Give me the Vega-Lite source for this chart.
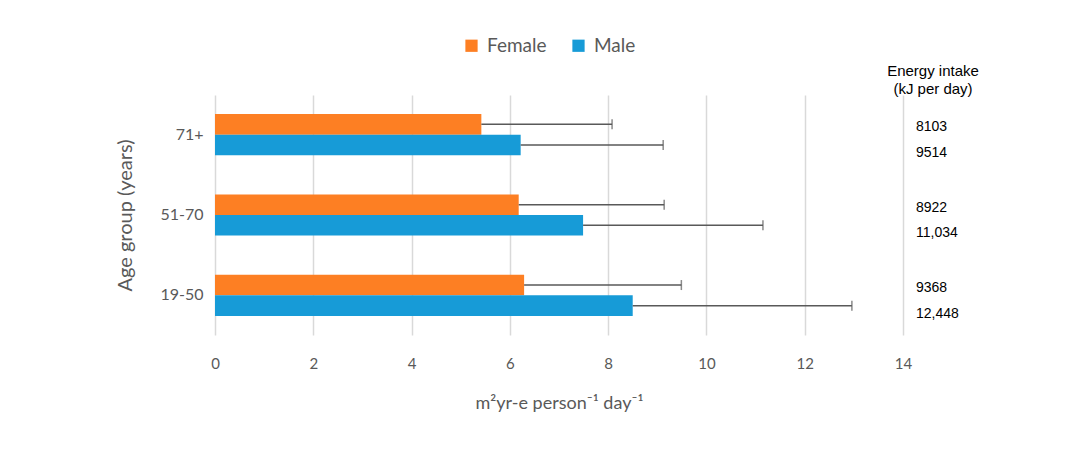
{
  "$schema": "https://vega.github.io/schema/vega-lite/v6.json",
  "width": 688,
  "height": 240,
  "autosize": "none",
  "padding": {"left": 215, "top": 95, "right": 169, "bottom": 136},
  "background": "white",
  "title": {
    "text": ["Energy intake", "(kJ per day)"],
    "orient": "top",
    "anchor": "end",
    "frame": "group",
    "align": "center",
    "dx": 30,
    "dy": 65,
    "offset": 4,
    "font": "Liberation Sans",
    "fontSize": 15,
    "fontWeight": "normal",
    "lineHeight": 18,
    "color": "#000000"
  },
  "data": {
    "values": [
      {"age": "71+", "sex": "Female", "value": 5.42, "upper": 8.08, "energy": "8103"},
      {"age": "71+", "sex": "Male", "value": 6.22, "upper": 9.12, "energy": "9514"},
      {"age": "51-70", "sex": "Female", "value": 6.18, "upper": 9.14, "energy": "8922"},
      {"age": "51-70", "sex": "Male", "value": 7.49, "upper": 11.15, "energy": "11,034"},
      {"age": "19-50", "sex": "Female", "value": 6.29, "upper": 9.49, "energy": "9368"},
      {"age": "19-50", "sex": "Male", "value": 8.5, "upper": 12.96, "energy": "12,448"}
    ]
  },
  "encoding": {
    "y": {
      "field": "age",
      "type": "nominal",
      "sort": ["71+", "51-70", "19-50"],
      "scale": {"paddingInner": 0.4875, "paddingOuter": 0.2375},
      "axis": {
        "title": "Age group (years)",
        "domain": false,
        "ticks": false,
        "grid": false,
        "labelPadding": 12,
        "labelFont": "Lato",
        "labelFontSize": 16,
        "labelColor": "#595959",
        "titleFont": "Lato",
        "titleFontSize": 20,
        "titleFontWeight": "normal",
        "titleColor": "#595959",
        "titlePadding": 24
      }
    },
    "yOffset": {
      "field": "sex",
      "type": "nominal",
      "sort": ["Female", "Male"],
      "scale": {"paddingInner": 0, "paddingOuter": 0}
    }
  },
  "layer": [
    {
      "mark": {"type": "bar"},
      "encoding": {
        "x": {
          "field": "value",
          "type": "quantitative",
          "scale": {"domain": [0, 14]},
          "axis": {
            "title": "m²yr-e person⁻¹ day⁻¹",
            "values": [0, 2, 4, 6, 8, 10, 12, 14],
            "domain": false,
            "ticks": false,
            "grid": true,
            "gridColor": "#d9d9d9",
            "gridWidth": 1.5,
            "labelFlush": false,
            "labelPadding": 21,
            "labelFont": "Lato",
            "labelFontSize": 15,
            "labelColor": "#595959",
            "titleFont": "Lato",
            "titleFontSize": 18,
            "titleFontWeight": "normal",
            "titleColor": "#595959",
            "titlePadding": 23
          }
        },
        "color": {
          "field": "sex",
          "type": "nominal",
          "sort": ["Female", "Male"],
          "scale": {"domain": ["Female", "Male"], "range": ["#fd7f23", "#179bd7"]},
          "legend": {
            "title": null,
            "orient": "none",
            "direction": "horizontal",
            "legendX": 247,
            "legendY": -59,
            "symbolType": "square",
            "symbolSize": 150,
            "symbolStrokeWidth": 0,
            "labelFont": "Lato",
            "labelFontSize": 19,
            "labelColor": "#595959",
            "columnPadding": 22,
            "labelOffset": 6
          }
        }
      }
    },
    {
      "mark": {"type": "rule", "color": "#595959", "strokeWidth": 1.5},
      "encoding": {
        "x": {"field": "value", "type": "quantitative"},
        "x2": {"field": "upper"}
      }
    },
    {
      "mark": {"type": "tick", "color": "#595959", "orient": "vertical", "size": 10, "thickness": 1.5},
      "encoding": {
        "x": {"field": "upper", "type": "quantitative"}
      }
    },
    {
      "transform": [{"filter": "datum.sex == 'Female'"}],
      "mark": {"type": "text", "align": "left", "baseline": "middle", "dx": 13, "dy": 3, "font": "Liberation Sans", "fontSize": 14, "color": "#000000"},
      "encoding": {
        "x": {"datum": 14, "type": "quantitative"},
        "text": {"field": "energy"}
      }
    },
    {
      "transform": [{"filter": "datum.sex == 'Male'"}],
      "mark": {"type": "text", "align": "left", "baseline": "middle", "dx": 13, "dy": 8, "font": "Liberation Sans", "fontSize": 14, "color": "#000000"},
      "encoding": {
        "x": {"datum": 14, "type": "quantitative"},
        "text": {"field": "energy"}
      }
    }
  ],
  "config": {"view": {"stroke": null}}
}
